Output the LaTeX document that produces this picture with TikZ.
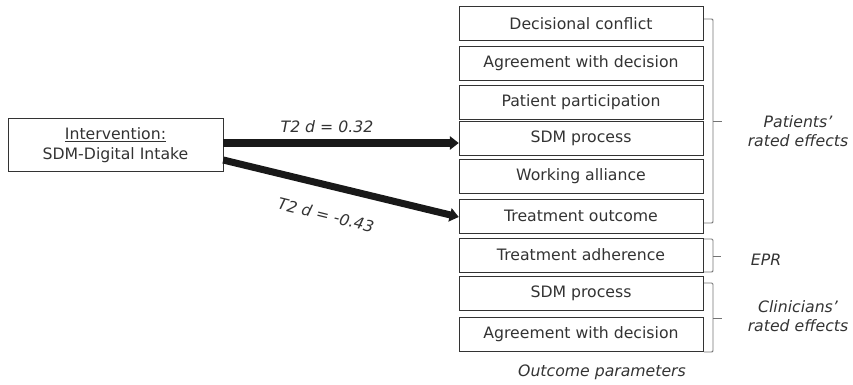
\documentclass[tikz,border=0pt]{standalone}
\usepackage{fontspec}
\setmainfont{DejaVu Sans}
\usepackage{tikz}
\usetikzlibrary{positioning,arrows.meta}

\definecolor{inkgray}{HTML}{333333}

\begin{document}
\begin{tikzpicture}[
x=0.03cm,y=-0.03cm,
>={Triangle[length=0.27cm,width=0.4cm]},
every node/.style={font=\fontsize{13.4}{16.5}\selectfont,text=inkgray},
box/.style={%
    rectangle,
    minimum width=7.32cm,
    minimum height=1.02cm,
    inner sep=0pt,
    draw=black!80,
    fill=white,
},
inbox/.style={%
    rectangle,
    minimum width=6.45cm,
    minimum height=1.59cm,
    align=center,
    inner sep=0pt,
    draw=black!80,
},
effect/.style={%
    line width=6pt,
    black!90,
    ->,
    shorten <=0pt,
},
bracket/.style={%
    black!55,
    line width=0.8pt,
    rounded corners=1pt,
},
lbl/.style={%
    font=\fontsize{13.4}{16.5}\selectfont\itshape,
    align=center,
},
]
\useasboundingbox (0,0) rectangle (853,384);

% Nodes
\node[inbox]    at (115.5,145)  (intervention)  {\underline{Intervention:}\\SDM-Digital Intake};

\node[box]      at (581,23.5)   (decconflict)   {Decisional conflict};
\node[box]      at (581,63.5)   (agreepat)      {Agreement with decision};
\node[box]      at (581,102)    (participation) {Patient participation};
\node[box]      at (581,138.5)  (sdmpat)        {SDM process};
\node[box]      at (581,176)    (alliance)      {Working alliance};
\node[box]      at (581,216)    (outcome)       {Treatment outcome};
\node[box]      at (581,255)    (adherence)     {Treatment adherence};
\node[box]      at (581,293)    (sdmclin)       {SDM process};
\node[box]      at (581,334)    (agreeclin)     {Agreement with decision};

\node[lbl]      at (327,127)    (dsdm)          {T2 d = 0.32};
\node[lbl,rotate=-14] at (326,215) (doutcome)   {T2 d = -0.43};

\node[lbl]      at (798,131)    (patients)      {Patients’\\rated effects};
\node[lbl]      at (766,260)    (epr)           {EPR};
\node[lbl]      at (798,316)    (clinicians)    {Clinicians’\\rated effects};
\node[lbl]      at (602,372)    (parameters)    {Outcome parameters};

% Lines
\draw[effect] ([yshift=0.06cm]intervention.east) -- ([yshift=0.06cm]intervention.east -| sdmpat.west);
\draw[effect] ([yshift=-0.45cm]intervention.east) -- ([yshift=-0.03cm]outcome.west);

% Brackets
\draw[bracket] (704,19) -- (713,19) -- (713,223) -- (704,223);
\draw[bracket] (713,121) -- (722,121);
\draw[bracket] (704,239) -- (713,239) -- (713,272) -- (704,272);
\draw[bracket] (713,256) -- (721,256);
\draw[bracket] (704,283) -- (713,283) -- (713,352) -- (704,352);
\draw[bracket] (713,318) -- (722,318);
\end{tikzpicture}
\end{document}
